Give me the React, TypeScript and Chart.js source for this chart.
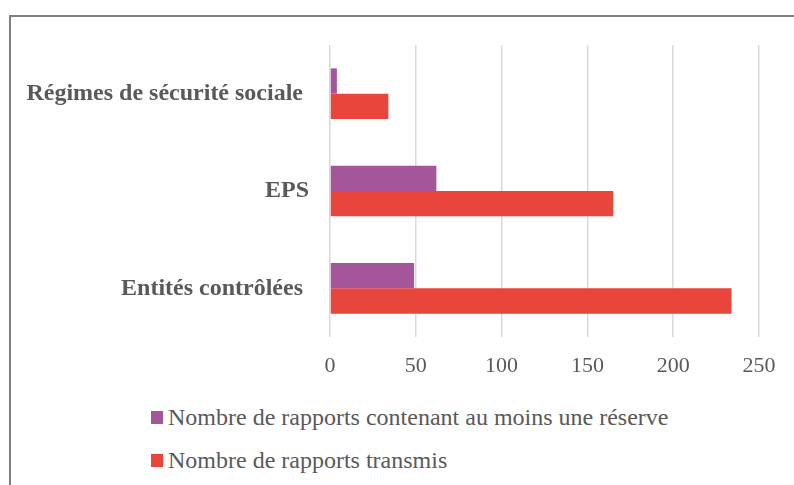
import React, { useEffect, useRef } from "react";
import { Chart, registerables } from "chart.js";

Chart.register(...registerables);

const categories = ["Régimes de sécurité sociale ", "EPS", "Entités contrôlées "];
const reservesLabel = "Nombre de rapports contenant au moins une réserve";
const transmisLabel = "Nombre de rapports transmis";
const reservesValues = [4, 62, 49];
const transmisValues = [34, 165, 234];
const xTicks = [0, 50, 100, 150, 200, 250];

const PURPLE = "#A5569A";
const RED = "#E8453C";
const TEXT = "#595959";
const FONT = "'Liberation Serif', 'Times New Roman', serif";

export default function App() {
  const ref = useRef<HTMLCanvasElement | null>(null);

  useEffect(() => {
    if (!ref.current) return;
    const chart = new Chart(ref.current, {
      type: "bar",
      data: {
        labels: categories,
        datasets: [
          { label: reservesLabel, data: reservesValues, backgroundColor: PURPLE, borderWidth: 0 },
          { label: transmisLabel, data: transmisValues, backgroundColor: RED, borderWidth: 0 },
        ],
      },
      options: {
        indexAxis: "y",
        animation: false,
        responsive: false,
        devicePixelRatio: 1,
        layout: { padding: { left: 0, top: 45, right: 35, bottom: 0 } },
        datasets: { bar: { categoryPercentage: 0.52, barPercentage: 1 } },
        plugins: { legend: { display: false }, tooltip: { enabled: false } },
        scales: {
          x: {
            min: 0,
            max: 250,
            afterBuildTicks: (s: any) => {
              s.ticks = xTicks.map((v) => ({ value: v }));
            },
            afterFit: (s: any) => {
              s.height = 400 - 337;
            },
            grid: { color: "#d9d9d9", lineWidth: 1.5, drawTicks: false },
            border: { display: false },
            ticks: { color: TEXT, font: { family: FONT, size: 22 }, padding: 16 },
          },
          y: {
            afterFit: (s: any) => {
              s.width = 330;
            },
            grid: { display: false, drawTicks: false },
            border: { display: false },
            ticks: { color: TEXT, font: { family: FONT, size: 24, weight: "bold" }, padding: 21 },
          },
        },
      },
    });
    return () => chart.destroy();
  }, []);

  const legendItems = [
    { label: reservesLabel, color: PURPLE, top: 411 },
    { label: transmisLabel, color: RED, top: 454 },
  ];

  return (
    <div style={{ position: "fixed", left: 0, top: 0, width: 794, height: 485, overflow: "hidden", background: "#fff" }}>
      <div
        style={{
          position: "absolute",
          left: 9,
          top: 15,
          width: 900,
          height: 600,
          border: "2px solid #808080",
          boxSizing: "border-box",
        }}
      />
      <canvas ref={ref} width={794} height={400} style={{ position: "absolute", left: 0, top: 0, width: 794, height: 400 }} />
      {legendItems.map((it) => (
        <React.Fragment key={it.label}>
          <div style={{ position: "absolute", left: 151, top: it.top, width: 12, height: 13, background: it.color }} />
          <div
            style={{
              position: "absolute",
              left: 168,
              top: it.top - 6,
              lineHeight: "24px",
              fontSize: 24,
              fontFamily: FONT,
              color: TEXT,
              whiteSpace: "nowrap",
            }}
          >
            {it.label}
          </div>
        </React.Fragment>
      ))}
    </div>
  );
}
